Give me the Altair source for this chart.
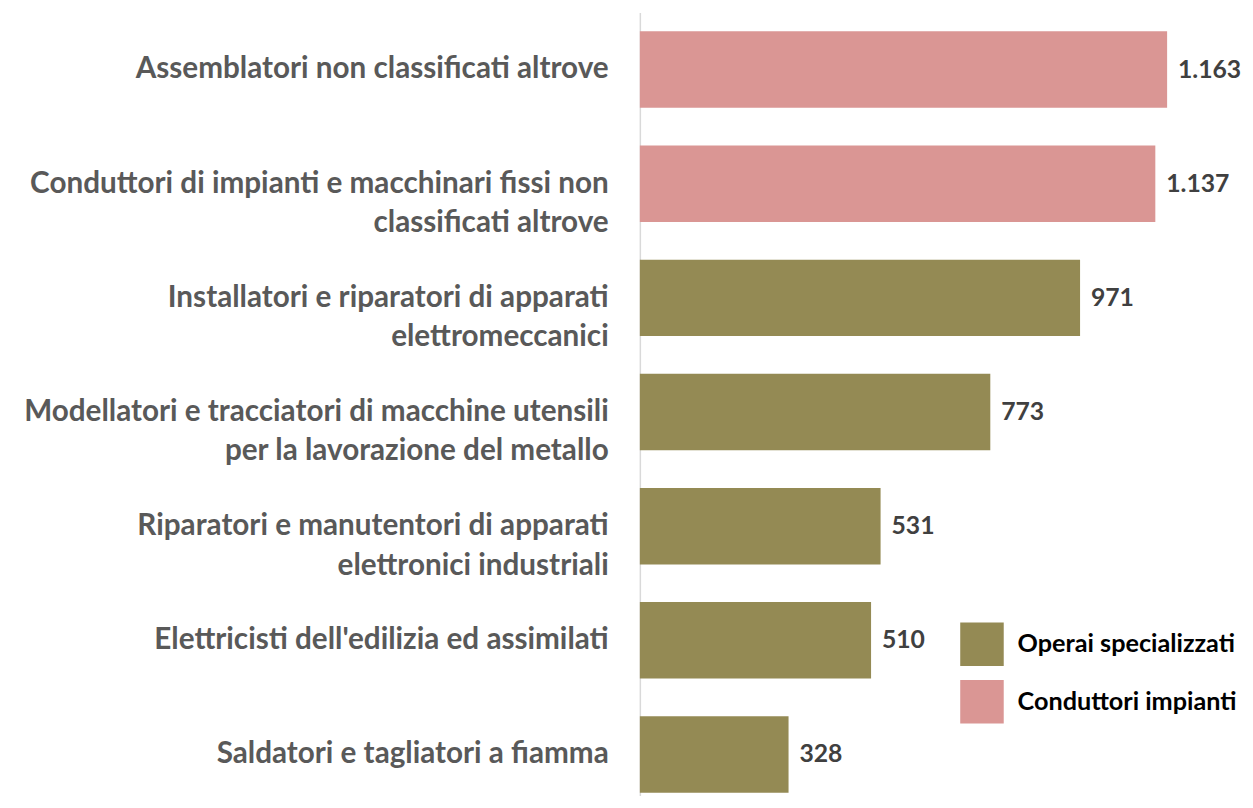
import altair as alt
import pandas as pd

categories = [
    "Assemblatori non classificati altrove",
    "Conduttori di impianti e macchinari fissi non|classificati altrove",
    "Installatori e riparatori di apparati|elettromeccanici",
    "Modellatori e tracciatori di macchine utensili|per la lavorazione del metallo",
    "Riparatori e manutentori di apparati|elettronici industriali",
    "Elettricisti dell'edilizia ed assimilati",
    "Saldatori e tagliatori a fiamma",
]
values = [1163, 1137, 971, 773, 531, 510, 328]
groups = [
    "Conduttori impianti",
    "Conduttori impianti",
    "Operai specializzati",
    "Operai specializzati",
    "Operai specializzati",
    "Operai specializzati",
    "Operai specializzati",
]
group_order = ["Operai specializzati", "Conduttori impianti"]
group_colors = ["#948A54", "#DA9694"]

df = pd.DataFrame({"categoria": categories, "valore": values, "gruppo": groups})

y_enc = alt.Y(
    "categoria:N",
    sort=categories,
    scale=alt.Scale(paddingInner=0.33, paddingOuter=0.0955, align=0.868),
    axis=alt.Axis(
        title=None,
        labelExpr="split(datum.label, '|')",
        labelFont="Lato",
        labelFontSize=30,
        labelFontWeight="bold",
        labelColor="#595959",
        labelLineHeight=40,
        labelPadding=32,
        labelLimit=0,
        ticks=False,
        domain=True,
        domainColor="#D9D9D9",
        domainWidth=1.5,
        grid=False,
    ),
)

x_scale = alt.Scale(domain=[0, 1289])

bars = alt.Chart(df).mark_bar().encode(
    y=y_enc,
    x=alt.X("valore:Q", scale=x_scale, axis=None),
    color=alt.Color(
        "gruppo:N",
        scale=alt.Scale(domain=group_order, range=group_colors),
        legend=alt.Legend(
            title=None,
            orient="none",
            legendX=324,
            legendY=617,
            symbolType="square",
            symbolSize=1936,
            symbolStrokeWidth=0,
            symbolOpacity=1,
            labelFont="Lato",
            labelFontSize=25.5,
            labelFontWeight="bold",
            labelColor="black",
            labelOffset=14,
            labelLimit=0,
            rowPadding=14,
            padding=0,
        ),
    ),
)

labels = (
    alt.Chart(df)
    .transform_calculate(etichetta="replace(format(datum.valore, ','), ',', '.')")
    .mark_text(
        align="left",
        baseline="middle",
        dx=11,
        font="Lato",
        fontSize=25,
        fontWeight="bold",
        color="#404040",
    )
    .encode(y=y_enc, x=alt.X("valore:Q", scale=x_scale, axis=None), text="etichetta:N")
)

chart = (
    alt.layer(bars, labels)
    .properties(
        width=591,
        height=792,
        autosize=alt.AutoSizeParams(type="none"),
        padding={"left": 639, "top": 0, "right": 21, "bottom": 0},
    )
    .configure(background="white")
    .configure_view(stroke=None)
)

chart.save("out.html", embed_options={"renderer": "svg", "actions": False})
